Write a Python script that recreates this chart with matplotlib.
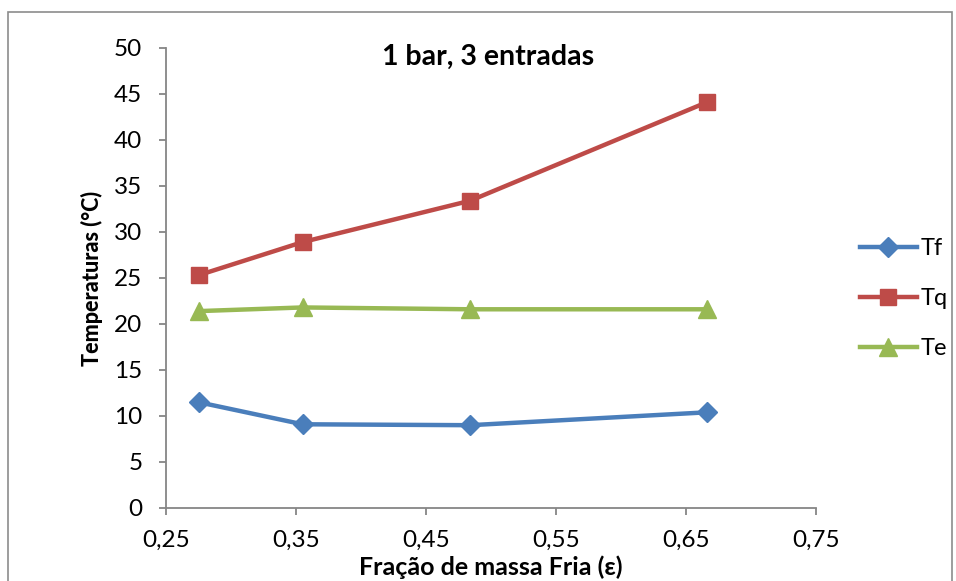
import matplotlib.pyplot as plt
from matplotlib.patches import Rectangle
from matplotlib.ticker import FuncFormatter

# data
eps = [0.275, 0.355, 0.484, 0.666]
tf = [11.5, 9.1, 9.0, 10.4]
tq = [25.3, 28.9, 33.4, 44.1]
te = [21.4, 21.8, 21.6, 21.6]
xticks = [0.25, 0.35, 0.45, 0.55, 0.65, 0.75]
yticks = list(range(0, 51, 5))

plt.rcParams['font.family'] = ['Lato', 'DejaVu Sans']

fig = plt.figure(figsize=(9.56, 5.81), dpi=100)
ax = fig.add_axes([166 / 956, 1 - 508 / 581, 650 / 956, 460 / 581])

# outer chart border
fig.patches.append(Rectangle((8 / 956, -0.05), 944 / 956, 1.05 - 12 / 581,
                             transform=fig.transFigure, fill=False,
                             edgecolor='#8c8c8c', linewidth=1.2))

ax.plot(eps, tf, color='#4a7ebb', lw=3.2, marker='D', ms=10, label='Tf')
ax.plot(eps, tq, color='#be4b48', lw=3.2, marker='s', ms=12, label='Tq')
ax.plot(eps, te, color='#98b954', lw=3.2, marker='^', ms=13, label='Te')

ax.set_xlim(0.25, 0.75)
ax.set_ylim(0, 50)
ax.set_xticks(xticks)
ax.set_yticks(yticks)
ax.xaxis.set_major_formatter(FuncFormatter(lambda v, p: f'{v:.2f}'.replace('.', ',')))

for s in ['top', 'right']:
    ax.spines[s].set_visible(False)
for s in ['left', 'bottom']:
    ax.spines[s].set_color('#868686')
    ax.spines[s].set_linewidth(1.3)
ax.tick_params(axis='both', direction='out', length=5, width=1.3, color='#868686',
               labelsize=17.5, labelcolor='black')
ax.tick_params(axis='x', pad=11)
ax.tick_params(axis='y', pad=12)

ax.set_title('1 bar, 3 entradas', fontsize=20.5, fontweight='bold', x=0.495, y=0.945)
ax.set_xlabel('Fração de massa Fria (ε)', fontsize=18, fontweight='bold')
ax.xaxis.set_label_coords(0.5, -0.103)
ax.set_ylabel('Temperaturas (°C)', fontsize=15.5, fontweight='black', labelpad=8)

ax.legend(loc='center left', bbox_to_anchor=(1.035, 0.455), frameon=False,
          fontsize=17, handlelength=2.4, handletextpad=0.15, labelspacing=1.22)

fig.savefig('out.png', dpi=100)
